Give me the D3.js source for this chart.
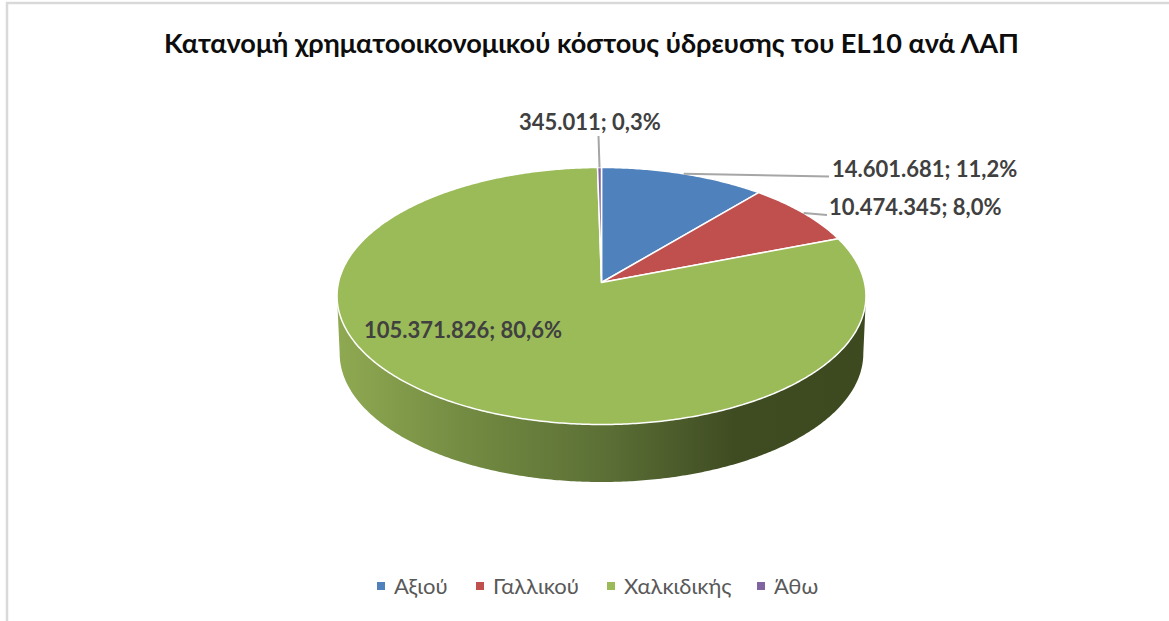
<!DOCTYPE html>
<html>
<head>
<meta charset="utf-8">
<script src="https://cdn.jsdelivr.net/npm/d3@7"></script>
<style>
  html, body { margin: 0; padding: 0; background: #fff; }
  svg { display: block; }
  text { font-family: Lato, "Open Sans", "Noto Sans", sans-serif; }
</style>
</head>
<body>
<svg id="graph-svg" width="1169" height="621"></svg>
<script>
'use strict';

const titleText = 'Κατανομή χρηματοοικονομικού κόστους ύδρευσης του EL10 ανά ΛΑΠ';
const categories = ['Αξιού', 'Γαλλικού', 'Χαλκιδικής', 'Άθω'];
const costs = [14601681, 10474345, 105371826, 345011];
const valueLabels = ['14.601.681', '10.474.345', '105.371.826', '345.011'];
const percentLabels = ['11,2%', '8,0%', '80,6%', '0,3%'];
const colors = ['#4f81bd', '#c0504d', '#9bbb59', '#8064a2'];

/* -- Perspective of the pie: circle point -> screen ------------------------ */
const centre = { x: 601.5, y: 282.5 };
const radiusX = 263;
const radiusY = 127.1;
const tilt = 0.105;
const depth = 57.5;

const project = function(angle, r = 1, drop = 0, shrink = 1) {
    const w = 1 + tilt * r * Math.cos(angle);
    return [
        centre.x + shrink * radiusX * r * Math.sin(angle) / w,
        centre.y + drop - radiusY * r * Math.cos(angle) / w
    ];
};

const svg = d3.select('#graph-svg');
const line = d3.line();

/* -- Chart frame ----------------------------------------------------------- */
svg.append('path')
    .attr('d', 'M7,621V3H1169')
    .attr('fill', 'none')
    .attr('stroke', '#d9d9d9')
    .attr('stroke-width', 2.5);

/* -- Title ----------------------------------------------------------------- */
svg.append('text')
    .attr('x', 591.5)
    .attr('y', 53)
    .attr('text-anchor', 'middle')
    .attr('font-size', 27.1)
    .attr('font-weight', 'bold')
    .attr('fill', '#0d0d0d')
    .text(titleText);

/* -- Side wall gradient ---------------------------------------------------- */
const grad = svg.append('defs').append('linearGradient')
    .attr('id', 'wall')
    .attr('gradientUnits', 'userSpaceOnUse')
    .attr('x1', 338).attr('x2', 866).attr('y1', 0).attr('y2', 0);
[[0, '#8fa952'], [0.25, '#728a41'], [0.5, '#5c7036'], [0.75, '#3f4c22'], [1, '#3d4a20']].forEach(function(s) {
    grad.append('stop').attr('offset', s[0]).attr('stop-color', s[1]);
});

/* -- Slices ---------------------------------------------------------------- */
const arcs = d3.pie().sort(null).startAngle(0).endAngle(2 * Math.PI)(costs);

const tangent = Math.acos(-tilt);
const wallAngles = d3.range(tangent, 2 * Math.PI - tangent, 0.01).concat(2 * Math.PI - tangent);
const wallPts = wallAngles.map(function(a) { return project(a); })
    .concat(wallAngles.slice().reverse().map(function(a) { return project(a, 1, depth, 0.99); }));

svg.append('path')
    .attr('d', line(wallPts) + 'Z')
    .attr('fill', 'url(#wall)');

svg.append('g').selectAll('path')
    .data(arcs)
    .enter()
    .append('path')
    .attr('d', function(d) {
        const steps = d3.range(d.startAngle, d.endAngle, 0.01).concat(d.endAngle);
        return line([[centre.x, centre.y]].concat(steps.map(function(a) { return project(a); }))) + 'Z';
    })
    .attr('fill', function(d, i) { return colors[i]; })
    .attr('stroke', '#fff')
    .attr('stroke-width', 1.5)
    .attr('stroke-linejoin', 'round');

/* -- Data labels and leaders ----------------------------------------------- */
const labelPos = [
    { x: 832, y: 177, end: [829, 176.5] },
    { x: 829, y: 215, end: [827, 215] },
    { x: 364, y: 338 },
    { x: 519, y: 130, end: [598.5, 136] }
];

svg.append('g').selectAll('path')
    .data(arcs.filter(function(d, i) { return labelPos[i].end; }))
    .enter()
    .append('path')
    .attr('d', function(d) {
        const mid = project((d.startAngle + d.endAngle) / 2);
        const end = labelPos[d.index].end;
        return line([mid, end]);
    })
    .attr('fill', 'none')
    .attr('stroke', '#a6a6a6')
    .attr('stroke-width', 2);

svg.append('g').selectAll('text')
    .data(arcs)
    .enter()
    .append('text')
    .attr('x', function(d) { return labelPos[d.index].x; })
    .attr('y', function(d) { return labelPos[d.index].y; })
    .attr('font-size', 22)
    .attr('font-weight', 'bold')
    .attr('fill', '#404040')
    .text(function(d) { return valueLabels[d.index] + '; ' + percentLabels[d.index]; });

/* -- Legend ---------------------------------------------------------------- */
const legendX = [377, 476, 607, 757];
const legend = svg.append('g').selectAll('g')
    .data(categories)
    .enter()
    .append('g')
    .attr('transform', function(d, i) { return 'translate(' + legendX[i] + ',587)'; });

legend.append('rect')
    .attr('x', 0).attr('y', -5)
    .attr('width', 8).attr('height', 8)
    .attr('fill', function(d, i) { return colors[i]; });

legend.append('text')
    .attr('x', 17).attr('y', 7)
    .attr('font-size', 22)
    .attr('fill', '#595959')
    .text(function(d) { return d; });
</script>
</body>
</html>
